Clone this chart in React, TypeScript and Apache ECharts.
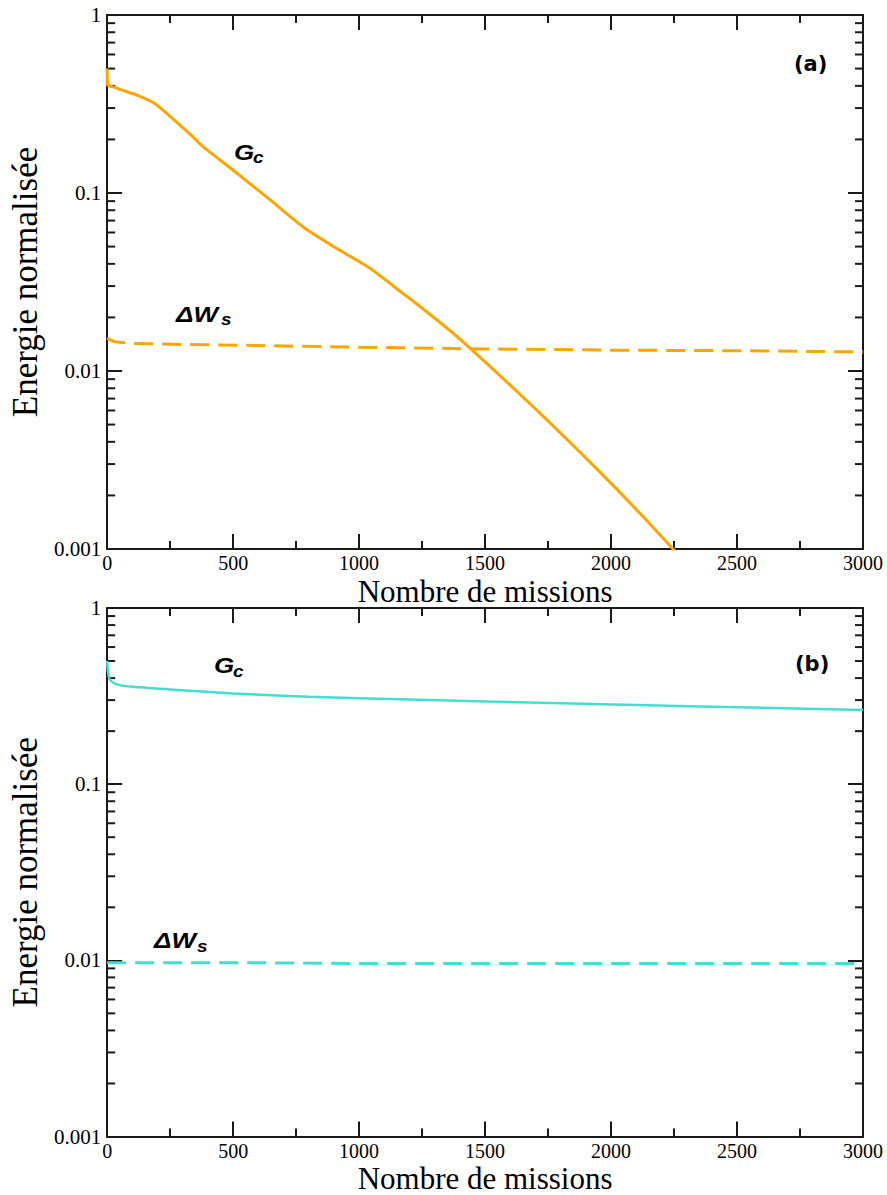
import React, { useEffect, useRef } from "react";
import * as echarts from "echarts";

// ---- data ----
const gcA_x = [0, 2, 30, 60, 118, 186, 253, 332, 383, 513, 647, 778, 908, 1042, 1172, 1224, 1358, 1449, 1618, 1753, 1883, 2013, 2147, 2246, 2300];
const gcA_y = [0.5, 0.405, 0.392, 0.378, 0.355, 0.32, 0.267, 0.212, 0.181, 0.13, 0.0914, 0.0644, 0.0491, 0.0379, 0.0274, 0.0241, 0.017, 0.0131, 0.00788, 0.00519, 0.00343, 0.00224, 0.00142, 0.001, 0.00083];

const dwA_x = [0, 10, 30, 100, 300, 600, 1000, 1500, 2000, 2500, 3000];
const dwA_y = [0.0153, 0.015, 0.0146, 0.0143, 0.0141, 0.0139, 0.0136, 0.0133, 0.0131, 0.013, 0.0128];

const gcB_x = [0, 3, 8, 20, 50, 100, 250, 500, 800, 1200, 1800, 2400, 3000];
const gcB_y = [0.5, 0.44, 0.4, 0.38, 0.365, 0.357, 0.345, 0.327, 0.313, 0.302, 0.288, 0.275, 0.264];

const dwB_x = [0, 500, 1000, 1500, 2000, 2500, 3000];
const dwB_y = [0.0097, 0.0097, 0.0096, 0.0096, 0.0096, 0.0096, 0.0096];

const xTicks = [0, 500, 1000, 1500, 2000, 2500, 3000];
const yTickValues = [0.001, 0.01, 0.1, 1];
const yTickLabels = ["0.001", "0.01", "0.1", "1"];
const yMinorTicks = [
  0.002, 0.003, 0.004, 0.005, 0.006, 0.007, 0.008, 0.009,
  0.02, 0.03, 0.04, 0.05, 0.06, 0.07, 0.08, 0.09,
  0.2, 0.3, 0.4, 0.5, 0.6, 0.7, 0.8, 0.9,
];

const xName = "Nombre de missions";
const yName = "Energie normalisée";

const ORANGE = "#FFA500";
const TURQ = "#40E0D0";
const AXIS = "#1a1a1a";

const zip = (xs: number[], ys: number[]) => xs.map((x, i) => [x, ys[i]]);

export default function App() {
  const ref = useRef<HTMLDivElement>(null);
  useEffect(() => {
    if (!ref.current) return;
    const chart = echarts.init(ref.current, null, { renderer: "svg" });

    const tickStyle = { color: AXIS, width: 2 };
    const serif = "Liberation Serif";

    const makeX = (gridIndex: number, position: "bottom" | "top") => ({
      type: "value",
      gridIndex,
      position,
      min: xTicks[0],
      max: xTicks[xTicks.length - 1],
      interval: 500,
      axisLine: { show: true, onZero: false, lineStyle: { color: AXIS, width: 2 } },
      axisTick: { show: true, inside: true, length: 15, lineStyle: tickStyle },
      minorTick: { show: true, splitNumber: 2, length: 8, lineStyle: tickStyle },
      splitLine: { show: false },
      minorSplitLine: { show: false },
      axisLabel: {
        show: position === "bottom",
        fontFamily: serif,
        fontSize: 20,
        color: "#000",
        margin: 4,
        formatter: (v: number) => String(v),
      },
      name: position === "bottom" ? xName : "",
      nameLocation: "middle",
      nameGap: 27,
      nameTextStyle: { fontFamily: serif, fontSize: 31, color: "#000", verticalAlign: "top", lineHeight: 30 },
    });

    const makeY = (gridIndex: number, position: "left" | "right") => ({
      type: "log",
      logBase: 10,
      gridIndex,
      position,
      min: yTickValues[0],
      max: yTickValues[yTickValues.length - 1],
      axisLine: { show: true, onZero: false, lineStyle: { color: AXIS, width: 2 } },
      axisTick: { show: true, inside: true, length: 15, lineStyle: tickStyle },
      minorTick: { show: false },
      splitLine: { show: false },
      axisLabel: {
        show: position === "left",
        fontFamily: serif,
        fontSize: 21,
        color: "#000",
        margin: 6,
        formatter: (v: number) => {
          const idx = yTickValues.findIndex((t) => Math.abs(Math.log10(t) - Math.log10(v)) < 1e-6);
          return idx >= 0 ? yTickLabels[idx] : "";
        },
      },
      name: position === "left" ? yName : "",
      nameLocation: "middle",
      nameGap: 63,
      nameTextStyle: { fontFamily: serif, fontSize: 35, color: "#000" },
    });

    const minorTickSeries = (xi: number, yi: number) => ({
      type: "custom",
      xAxisIndex: xi,
      yAxisIndex: yi,
      silent: true,
      clip: false,
      data: yMinorTicks.map((v) => [0, v]),
      renderItem: (_p: any, api: any) => {
        const v = api.value(1);
        const l = api.coord([xTicks[0], v]);
        const r = api.coord([xTicks[xTicks.length - 1], v]);
        return {
          type: "group",
          children: [
            { type: "line", shape: { x1: l[0], y1: l[1], x2: l[0] + 8, y2: l[1] }, style: { stroke: AXIS, lineWidth: 2 } },
            { type: "line", shape: { x1: r[0] - 8, y1: r[1], x2: r[0], y2: r[1] }, style: { stroke: AXIS, lineWidth: 2 } },
          ],
        };
      },
    });

    const label = (x: number, y: number, text: string, size: number, sx = 1.18, family = "Liberation Sans", italic = true) => ({
      type: "text",
      x,
      y,
      scaleX: sx,
      style: {
        text,
        font: `${italic ? "italic " : ""}bold ${size}px "${family}"`,
        fill: "#000",
        align: "left",
        verticalAlign: "middle",
      },
    });

    chart.setOption({
      animation: false,
      backgroundColor: "#fff",
      grid: [
        { left: 103, top: 15, width: 760, height: 534 },
        { left: 103, top: 608, width: 760, height: 532 },
      ],
      xAxis: [makeX(0, "bottom"), makeX(0, "top"), makeX(1, "bottom"), makeX(1, "top")],
      yAxis: [makeY(0, "left"), makeY(0, "right"), makeY(1, "left"), makeY(1, "right")],
      series: [
        {
          type: "line", xAxisIndex: 0, yAxisIndex: 0, data: zip(gcA_x, gcA_y), showSymbol: false,
          lineStyle: { color: ORANGE, width: 3 }, clip: true, smooth: 0.2,
        },
        {
          type: "line", xAxisIndex: 0, yAxisIndex: 0, data: zip(dwA_x, dwA_y), showSymbol: false,
          lineStyle: { color: ORANGE, width: 3, type: [19, 9] },
        },
        {
          type: "line", xAxisIndex: 2, yAxisIndex: 2, data: zip(gcB_x, gcB_y), showSymbol: false,
          lineStyle: { color: TURQ, width: 2.5 }, smooth: 0.2,
        },
        {
          type: "line", xAxisIndex: 2, yAxisIndex: 2, data: zip(dwB_x, dwB_y), showSymbol: false,
          lineStyle: { color: TURQ, width: 3, type: [19, 9] },
        },
        minorTickSeries(0, 0),
        minorTickSeries(2, 2),
      ],
      graphic: [
        label(234, 152, "G", 22),
        label(253, 158, "c", 16),
        label(176, 314, "ΔW", 22),
        label(221, 320, "s", 16),
        label(794, 64, "(a)", 21, 1, "DejaVu Sans", false),
        label(214, 665, "G", 22),
        label(233, 672, "c", 16),
        label(154, 940, "ΔW", 22),
        label(197, 947, "s", 16),
        label(795, 664, "(b)", 21, 1, "DejaVu Sans", false),
      ],
    });
    return () => chart.dispose();
  }, []);
  return <div ref={ref} style={{ position: "fixed", left: 0, top: 0, width: 887, height: 1195 }} />;
}
